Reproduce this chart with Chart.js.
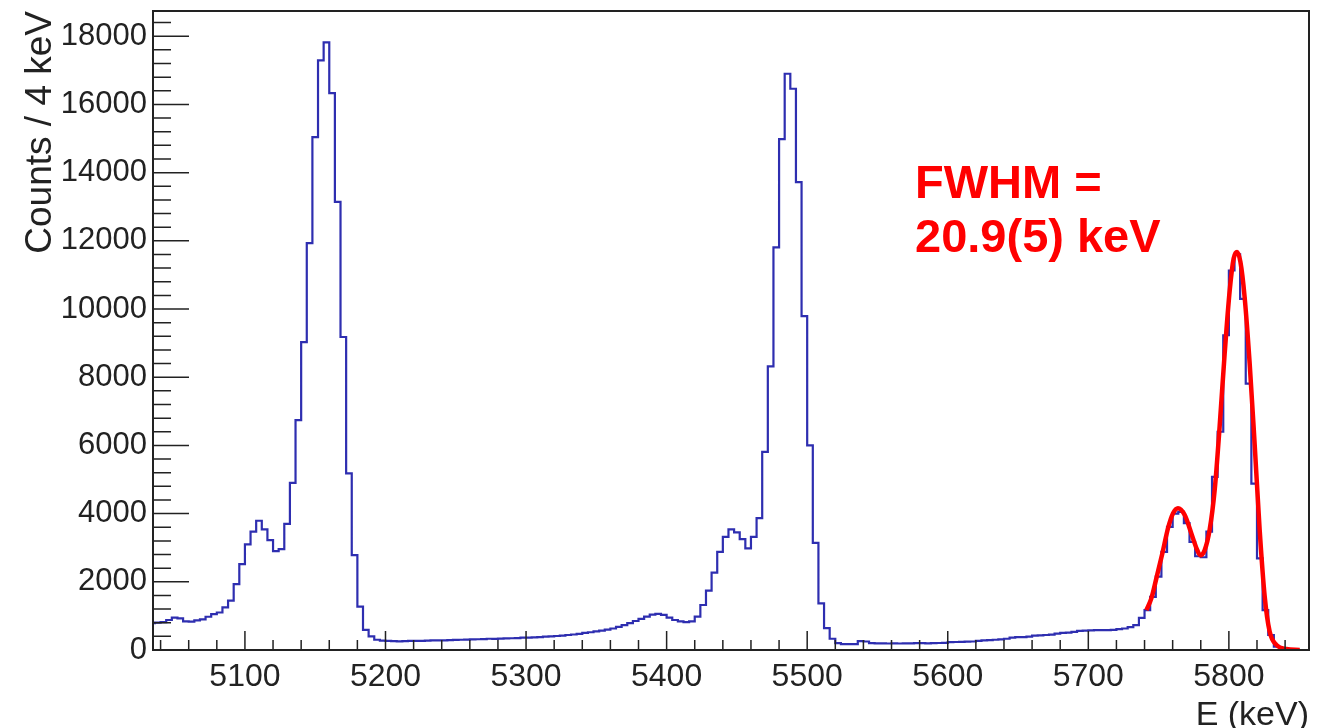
<!DOCTYPE html>
<html>
<head>
<meta charset="utf-8">
<title>Spectre alpha</title>
<script src="https://cdn.jsdelivr.net/npm/chart.js@4.4.1/dist/chart.umd.min.js"></script>
<style>
  html, body { margin: 0; padding: 0; background: #fff; }
</style>
</head>
<body>
<canvas id="spectrumChart" width="1332" height="728"></canvas>
<script>
// Histogramme : bords de bins (keV) et contenus
const BIN_START = 5032;
const BIN_WIDTH = 4;
const COUNTS = [
    790, 800, 820, 880, 950, 930, 840, 830, 870, 900,
    975, 1050, 1100, 1250, 1450, 1930, 2520, 3100, 3470, 3790,
    3540, 3220, 2900, 2960, 3700, 4900, 6740, 9030, 11930, 15040,
    17290, 17820, 16330, 13140, 9180, 5180, 2780, 1270, 590, 400,
    300, 275, 265, 260, 255, 260, 270, 265, 270, 275,
    280, 285, 280, 290, 295, 300, 305, 310, 315, 320,
    330, 325, 335, 340, 345, 350, 360, 365, 370, 380,
    390, 400, 410, 420, 440, 455, 470, 500, 520, 545,
    570, 600, 630, 680, 730, 790, 850, 910, 980, 1040,
    1060, 1030, 950, 880, 840, 820, 840, 980, 1320, 1740,
    2270, 2880, 3320, 3540, 3450, 3250, 2980, 3320, 3870, 5810,
    8320, 11810, 14980, 16900, 16460, 13720, 9790, 6000, 3140, 1370,
    640, 330, 200, 175, 170, 175, 260, 250, 200, 195,
    195, 190, 195, 190, 195, 195, 200, 200, 195, 200,
    205, 210, 230, 235, 240, 245, 250, 270, 280, 290,
    300, 310, 330, 360, 375, 380, 390, 420, 430, 440,
    450, 480, 500, 510, 530, 560, 570, 575, 580, 580,
    585, 590, 610, 630, 670, 730, 940, 1170, 1560, 2150,
    2880, 3610, 4000, 4050, 3720, 3170, 2750, 2720, 3470, 5080,
    6400, 9230, 11130, 11600, 10300, 7810, 4880, 2690, 1170, 440,
    100, 30, 10, 0, 0, 0, 0
];

// Ajustement (courbe rouge)
const FIT_E = [5741.3, 5744.9, 5748.4, 5752.7, 5756.7, 5760.3, 5763.8, 5768.6, 5773.3, 5776.9,
    5779.7, 5782.8, 5786.3, 5789.9, 5793.4, 5797.0, 5800.6, 5803.4, 5805.8, 5808.2,
    5811.2, 5814.8, 5818.3, 5821.9, 5825.5, 5829.0, 5833.8, 5840.9, 5850.4];
const FIT_COUNTS = [1170, 1520, 2100, 2840, 3570, 4010, 4160, 3960, 3420, 2990,
    2780, 2930, 3520, 4690, 6540, 8690, 10550, 11480, 11670, 11380,
    10350, 8400, 6060, 3520, 1560, 540, 150, 30, 0];

// Graduations
const X_TICKS = [5100, 5200, 5300, 5400, 5500, 5600, 5700, 5800];
const Y_TICKS = [0, 2000, 4000, 6000, 8000, 10000, 12000, 14000, 16000, 18000];

const X_MIN = 5034.6;
const X_MAX = 5857;
const Y_MAX = 18740;

const histPoints = COUNTS.map((c, i) => ({ x: BIN_START + i * BIN_WIDTH, y: c }));
histPoints.push({ x: BIN_START + COUNTS.length * BIN_WIDTH, y: COUNTS[COUNTS.length - 1] });
const fitPoints = FIT_E.map((e, i) => ({ x: e, y: FIT_COUNTS[i] }));

const FONT = '"Liberation Sans", Arial, sans-serif';

// Cadre et graduations vers l'intérieur, facon ROOT
const rootFrame = {
    id: 'rootFrame',
    afterDatasetsDraw(chart) {
        const { ctx, chartArea: a, scales: { x, y } } = chart;
        ctx.save();
        ctx.strokeStyle = '#222';
        ctx.lineWidth = 1.5;
        ctx.beginPath();
        for (let e = 5040; e <= X_MAX; e += 20) {
            const px = x.getPixelForValue(e);
            if (px < a.left || px > a.right) continue;
            const len = e % 100 === 0 ? 19 : 10;
            ctx.moveTo(px, a.bottom);
            ctx.lineTo(px, a.bottom - len);
        }
        for (let v = 400; v <= Y_MAX; v += 400) {
            const py = y.getPixelForValue(v);
            const len = v % 2000 === 0 ? 36 : 18;
            ctx.moveTo(a.left, py);
            ctx.lineTo(a.left + len, py);
        }
        ctx.stroke();
        ctx.lineWidth = 2;
        ctx.strokeRect(a.left, a.top, a.right - a.left, a.bottom - a.top);

        ctx.fillStyle = '#ff0000';
        ctx.font = 'bold 47px ' + FONT;
        ctx.textBaseline = 'alphabetic';
        ctx.fillText('FWHM =', 915, 198);
        ctx.fillText('20.9(5) keV', 915, 252);
        ctx.restore();
    }
};

const spectrumCtx = document.getElementById('spectrumChart').getContext('2d');
const spectrumChart = new Chart(spectrumCtx, {
    type: 'line',
    data: {
        datasets: [{
            label: 'Ajustement',
            data: fitPoints,
            borderColor: '#ff0000',
            borderWidth: 4.5,
            pointRadius: 0,
            cubicInterpolationMode: 'monotone',
            fill: false
        }, {
            label: 'Histogramme',
            data: histPoints,
            borderColor: '#2e2eb0',
            borderWidth: 2.2,
            pointRadius: 0,
            stepped: true,
            fill: false
        }]
    },
    options: {
        responsive: false,
        animation: false,
        devicePixelRatio: 1,
        layout: { padding: { left: 0, right: 23, top: 11, bottom: 0 } },
        plugins: {
            legend: { display: false },
            tooltip: { enabled: false }
        },
        scales: {
            x: {
                type: 'linear',
                min: X_MIN,
                max: X_MAX,
                grid: { display: false, drawTicks: false },
                border: { display: false },
                afterBuildTicks(scale) { scale.ticks = X_TICKS.map(v => ({ value: v })); },
                ticks: {
                    autoSkip: false,
                    maxRotation: 0,
                    padding: 8,
                    color: '#222',
                    callback: v => String(v),
                    font: { family: FONT, size: 32 }
                },
                title: {
                    display: true,
                    text: 'E (keV)',
                    align: 'end',
                    color: '#222',
                    padding: 0,
                    font: { family: FONT, size: 34, lineHeight: 0.75 }
                },
                afterFit(scale) {
                    scale.height = 78;
                    scale.paddingLeft = 0;
                    scale.paddingRight = 0;
                }
            },
            y: {
                min: 0,
                max: Y_MAX,
                grid: { display: false, drawTicks: false },
                border: { display: false },
                afterBuildTicks(scale) { scale.ticks = Y_TICKS.map(v => ({ value: v })); },
                ticks: {
                    autoSkip: false,
                    padding: 6,
                    color: '#222',
                    callback: v => String(v),
                    font: { family: FONT, size: 31 }
                },
                title: {
                    display: true,
                    text: 'Counts / 4 keV',
                    align: 'end',
                    color: '#222',
                    padding: { top: 19, bottom: 0 },
                    font: { family: FONT, size: 37 }
                },
                afterFit(scale) {
                    scale.width = 153;
                    scale.paddingTop = 0;
                    scale.paddingBottom = 0;
                }
            }
        }
    },
    plugins: [rootFrame]
});
</script>
</body>
</html>
